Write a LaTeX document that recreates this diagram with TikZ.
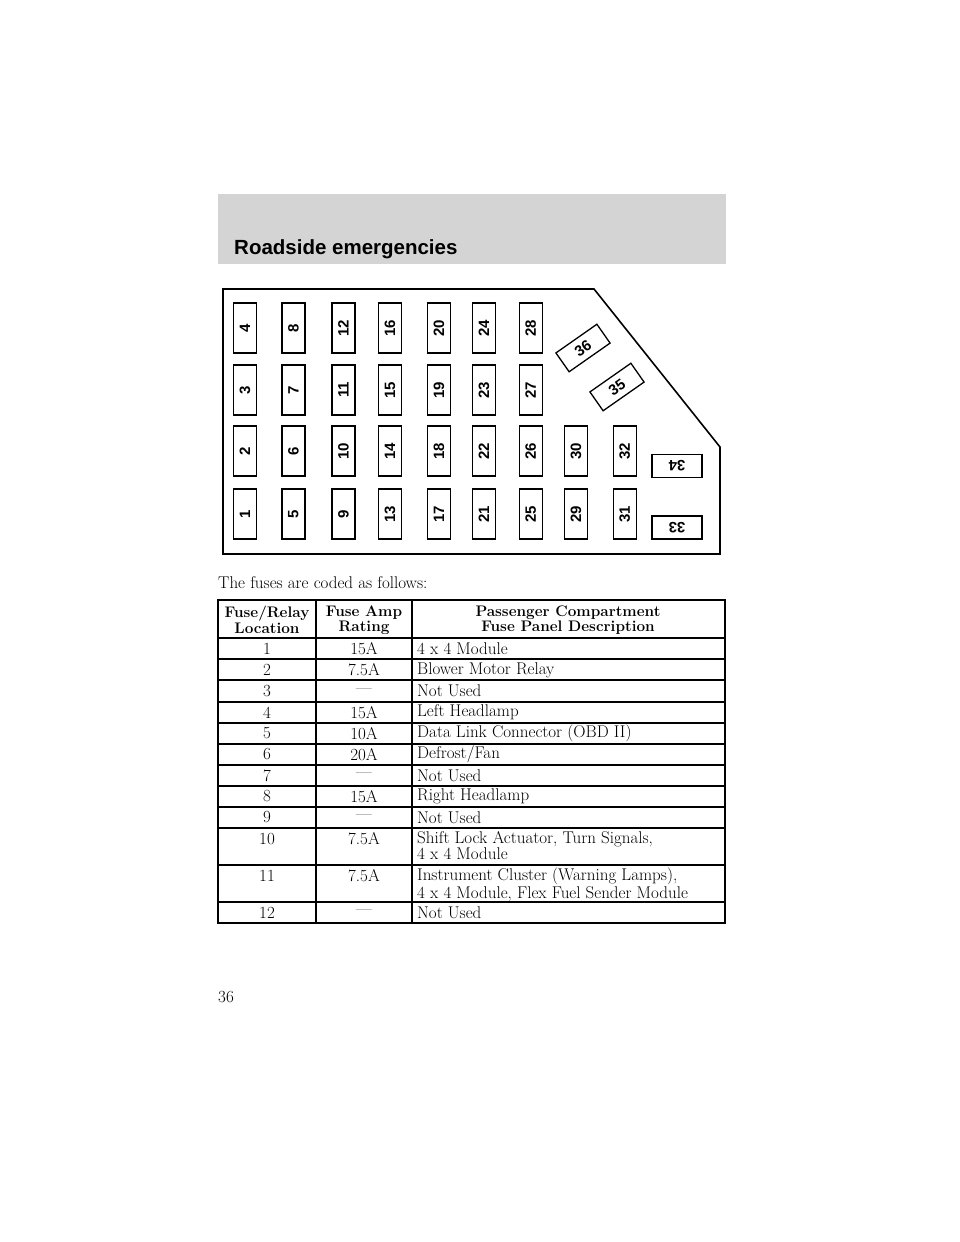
\documentclass[tikz,border=0pt]{standalone}
\usepackage{fontspec}
\newfontfamily\hsans{Liberation Sans}
\begin{document}
\begin{tikzpicture}[x=1pt,y=-1pt,
  fuse/.style={draw,line width=1.3pt,minimum width=50pt,minimum height=23pt,inner sep=0pt,font=\hsans\bfseries\fontsize{15}{15}\selectfont},
  cell/.style={inner sep=0pt,font=\fontsize{17}{16}\selectfont,align=center},
  dcell/.style={inner sep=0pt,font=\fontsize{17}{16}\selectfont,align=left,anchor=west},
  hcell/.style={inner sep=0pt,font=\bfseries\fontsize{15.3}{15.5}\selectfont,align=center}]
\useasboundingbox (0,0) rectangle (960,1242);
\fill[white] (0,0) rectangle (960,1242);
\fill[black!17] (218,194) rectangle (726,264);
\node[anchor=west,inner sep=0pt,font=\hsans\bfseries\fontsize{20.5}{20}\selectfont] (hdr) at (234,249) {Roadside emergencies};
\draw[line width=1.6pt] (223,289) -- (594,289) -- (720,447) -- (720,554) -- (223,554) -- cycle;
\foreach \n/\x/\y in {1/245/514,2/245/451,3/245/390,4/245/328,
 5/293.4/514,6/293.4/451,7/293.4/390,8/293.4/328,
 9/343.4/514,10/343.4/451,11/343.4/390,12/343.4/328,
 13/390/514,14/390/451,15/390/390,16/390/328,
 17/439/514,18/439/451,19/439/390,20/439/328,
 21/484/514,22/484/451,23/484/390,24/484/328,
 25/530.7/514,26/530.7/451,27/530.7/390,28/530.7/328,
 29/576/514,30/576/451,31/624.7/514,32/624.7/451}
 \node[fuse,rotate=90] (f\n) at (\x,\y) {\n};
\node[fuse,rotate=180] (f33) at (677,527.5) {33};
\node[fuse,rotate=180] (f34) at (677,466) {34};
\node[fuse,rotate=35] (f35) at (617,387) {35};
\node[fuse,rotate=35] (f36) at (583,348) {36};
\node[anchor=west,inner sep=0pt,font=\fontsize{17}{17}\selectfont] (intro) at (218,583) {The fuses are coded as follows:};
% table
\draw[line width=1.6pt] (218,600) rectangle (725,923);
\foreach \yy in {638,659,680,702,723,744,765,786,807,828,865,902}
  \draw[line width=1.3pt] (218,\yy) -- (725,\yy);
\draw[line width=1.3pt] (316,600) -- (316,923);
\draw[line width=1.3pt] (412,600) -- (412,923);
\node[hcell] (h1) at (267,620) {Fuse/Relay\\Location};
\node[hcell] (h2) at (364,620) {Fuse Amp\\Rating};
\node[hcell] (h3) at (568,620) {Passenger Compartment\\Fuse Panel Description};
\foreach \i/\a/\d/\yy in {1/15A/4 x 4 Module/649,2/7.5A/Blower Motor Relay/670,3/---/Not Used/691,
 4/15A/Left Headlamp/712.5,5/10A/Data Link Connector (OBD II)/733.5,6/20A/Defrost\slash Fan/754.5,
 7/---/Not Used/775.5,8/15A/Right Headlamp/796.5,9/---/Not Used/817.5,12/---/Not Used/912.5}{
 \node[cell] (n\i) at (267,\yy) {\i};
 \node[cell] (a\i) at (364,\yy) {\a};
 \node[dcell] (d\i) at (417,\yy) {\d};}
\node[cell] (n10) at (267,839) {10};
\node[cell] (a10) at (364,839) {7.5A};
\node[dcell,anchor=north west] (d10) at (417,831) {Shift Lock Actuator, Turn Signals,\\4 x 4 Module};
\node[cell] (n11) at (267,876) {11};
\node[cell] (a11) at (364,876) {7.5A};
\node[dcell,anchor=north west] (d11) at (417,868) {Instrument Cluster (Warning Lamps),\\4 x 4 Module, Flex Fuel Sender Module};
\node[anchor=west,inner sep=0pt,font=\fontsize{17}{17}\selectfont] (pg) at (218,997) {36};
\end{tikzpicture}
\end{document}
